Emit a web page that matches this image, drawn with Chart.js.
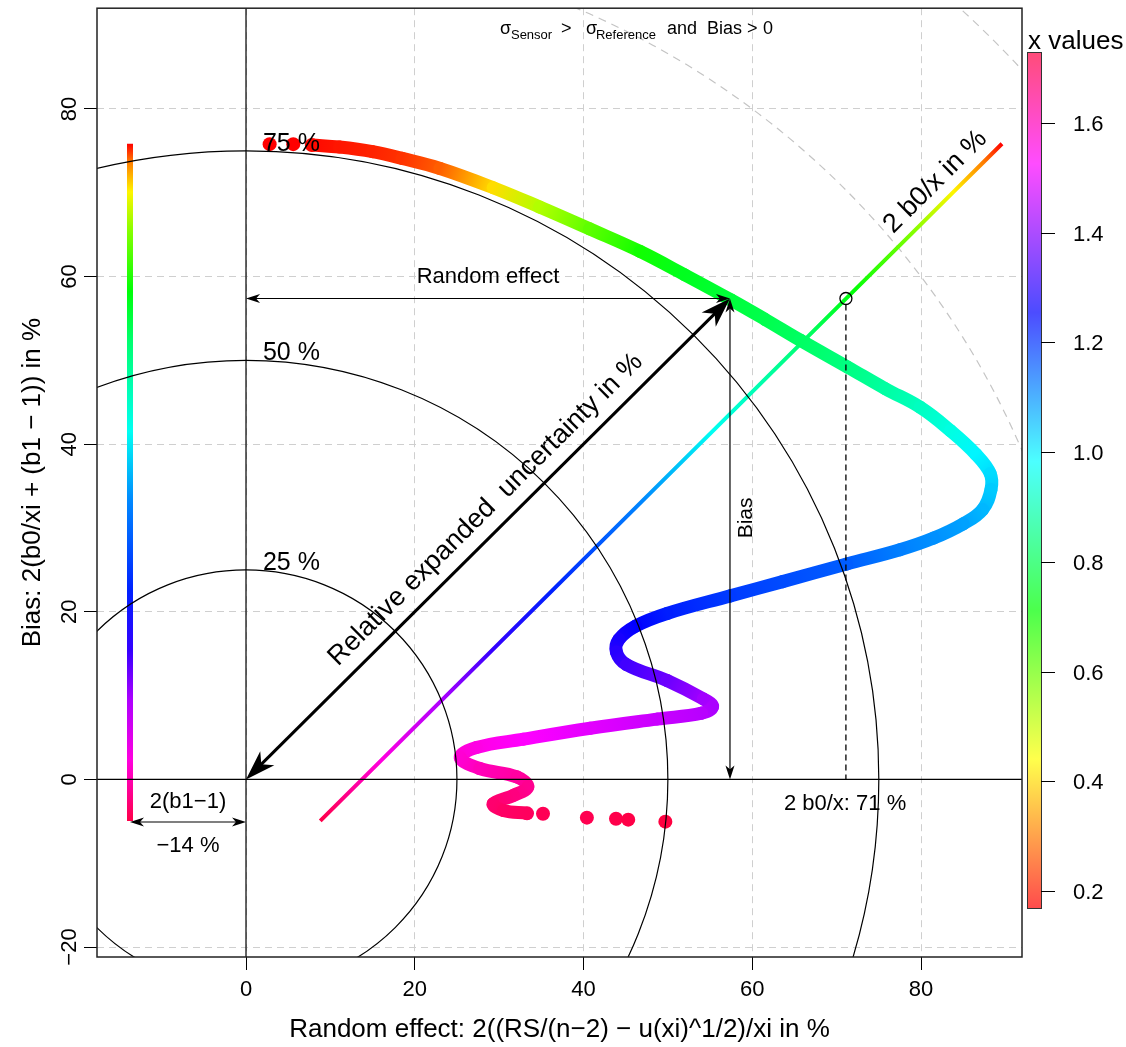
<!DOCTYPE html>
<html><head><meta charset="utf-8">
<script src="https://cdn.jsdelivr.net/npm/chart.js@4"></script>
<style>html,body{margin:0;padding:0;background:#fff;overflow:hidden}canvas{display:block}</style>
</head><body>
<canvas id="c" width="1126" height="1047"></canvas>
<script>
// ---------- data ----------
const xTicks = [0, 20, 40, 60, 80];
const yTicks = [-20, 0, 20, 40, 60, 80];
const xRange = [-17.66, 91.97];
const yRange = [-21.19, 92.02];
const xTitle = 'Random effect: 2((RS/(n\u22122) \u2212 u(xi)^1/2)/xi in %';
const yTitle = 'Bias: 2(b0/xi + (b1 \u2212 1)) in %';

// main curve: random effect (x), bias (y) and the x value (colour)
const curveRandom = [2.8, 5.6, 7.8, 11.1, 15.0, 18.5, 23.0, 29.3, 34.8, 40.7, 46.7, 52.0, 57.5, 61.5, 65.7, 71.3, 75.8, 79.9, 83.5, 86.5, 88.2, 88.3, 87.3, 85.0, 81.5, 77.5, 71.2, 63.6, 57.4, 49.9, 46.2, 44.2, 43.9, 45.1, 49.9, 54.2, 55.3, 54.0, 48.7, 40.8, 32.9, 27.3, 25.4, 27.7, 32.1, 33.4, 31.7, 29.3, 30.5, 33.3, 35.2, 40.4, 43.85, 45.3, 49.7];
const curveBias = [75.8, 75.8, 75.7, 75.45, 74.9, 74.1, 72.9, 70.6, 68.3, 65.7, 63.0, 60.2, 57.2, 54.9, 52.4, 49.2, 46.6, 44.4, 41.6, 38.8, 36.5, 34.6, 32.2, 30.5, 28.8, 27.4, 25.7, 23.6, 21.9, 19.8, 18.3, 16.7, 15.2, 13.7, 11.8, 9.6, 8.7, 7.9, 7.2, 6.1, 4.8, 3.8, 2.6, 1.3, 0.3, -0.9, -1.9, -2.9, -3.7, -4.05, -4.1, -4.56, -4.7, -4.8, -5.04];
const curveXValue = [0.169, 0.169, 0.178, 0.192, 0.205, 0.223, 0.269, 0.404, 0.522, 0.612, 0.694, 0.744, 0.775, 0.793, 0.816, 0.848, 0.884, 0.916, 0.952, 0.993, 1.020, 1.038, 1.060, 1.083, 1.101, 1.119, 1.155, 1.174, 1.192, 1.223, 1.255, 1.278, 1.296, 1.323, 1.368, 1.427, 1.436, 1.450, 1.468, 1.495, 1.526, 1.554, 1.572, 1.599, 1.626, 1.644, 1.662, 1.680, 1.689, 1.698, 1.707, 1.712, 1.717, 1.721, 1.729];
const lineFrom = 2, lineTo = 49;              // dense part drawn as a band
const dotIndex = [0, 1, 2, 49, 50, 51, 52, 53, 54]; // isolated points

// bias levels with their x value (vertical bar at 2(b1-1) and the 2 b0/x line)
const levelBias   = [75.85, 73.7, 70.1, 65.4, 58.2, 52.3, 41.5, 33.2, 22.5, 15.4, 9.4, 2.3, -4.95];
const levelXValue = [0.169, 0.300, 0.430, 0.570, 0.720, 0.830, 0.970, 1.110, 1.220, 1.310, 1.440, 1.560, 1.720];
const b1Term = -13.75;                 // 2(b1-1) in %
const refRandom = 57.36, refBias = 57.38; // example point
const b0Point = 71.1;                  // 2 b0/x in %
const uncertaintyCircles = [25, 50, 75];
const outerCircles = [100, 125];
const colorbarTicks = [0.2, 0.4, 0.6, 0.8, 1.0, 1.2, 1.4, 1.6];
const xValueRange = [0.169, 1.729];

// ---------- styling helpers ----------
const FONT = '"Liberation Sans", Arial, Helvetica, sans-serif';
Chart.defaults.font.family = FONT;
Chart.defaults.color = '#000';
const HUE_SPAN = 345;
function hueOf(v) {
  const t = (v - xValueRange[0]) / (xValueRange[1] - xValueRange[0]);
  return Math.max(0, Math.min(1, t)) * HUE_SPAN;
}
function colorOf(v, a) { return 'hsla(' + hueOf(v).toFixed(1) + ',100%,50%,' + (a === undefined ? 1 : a) + ')'; }
const minus = s => String(s).replace('-', '\u2212');

function lineGradient(chart, pts, vs) {
  const sx = chart.scales.x, sy = chart.scales.y;
  if (!chart.chartArea || !sx || !sy) return colorOf(vs[0]);
  const P = pts.map(p => [sx.getPixelForValue(p.x), sy.getPixelForValue(p.y)]);
  const a = P[0], b = P[P.length - 1];
  const dx = b[0] - a[0], dy = b[1] - a[1], L2 = dx * dx + dy * dy || 1;
  const g = chart.ctx.createLinearGradient(a[0], a[1], b[0], b[1]);
  P.forEach((p, i) => {
    const t = Math.min(1, Math.max(0, ((p[0] - a[0]) * dx + (p[1] - a[1]) * dy) / L2));
    g.addColorStop(t, colorOf(vs[i]));
  });
  return g;
}

const bandIdx = [];
for (let i = lineFrom; i <= lineTo; i++) bandIdx.push(i);
const bandData = bandIdx.map(i => ({x: curveRandom[i], y: curveBias[i]}));
const dotData = dotIndex.map(i => ({x: curveRandom[i], y: curveBias[i]}));
const barData = levelBias.map(b => ({x: b1Term, y: b}));
const diagData = levelBias.map(b => ({x: b - b1Term, y: b}));

const cnv = document.getElementById('c');
const c2d = cnv.getContext('2d');

// ---------- drawing helpers ----------
function arrowHead(ctx, x, y, ang, len, hw) {
  ctx.save();
  ctx.translate(x, y); ctx.rotate(ang);
  ctx.beginPath();
  ctx.moveTo(0, 0); ctx.lineTo(-len, -hw); ctx.lineTo(-len * 0.72, 0); ctx.lineTo(-len, hw);
  ctx.closePath(); ctx.fill();
  ctx.restore();
}
function dblArrow(ctx, x0, y0, x1, y1, lw, len, hw) {
  const a = Math.atan2(y1 - y0, x1 - x0);
  ctx.lineWidth = lw;
  ctx.beginPath();
  ctx.moveTo(x0 + Math.cos(a) * len * 0.5, y0 + Math.sin(a) * len * 0.5);
  ctx.lineTo(x1 - Math.cos(a) * len * 0.5, y1 - Math.sin(a) * len * 0.5);
  ctx.stroke();
  arrowHead(ctx, x1, y1, a, len, hw);
  arrowHead(ctx, x0, y0, a + Math.PI, len, hw);
}
function drawCircles(chart, radii, color, dash, lw) {
  const {ctx, chartArea: ca, scales: {x, y}} = chart;
  const cx = x.getPixelForValue(0), cy = y.getPixelForValue(0);
  ctx.save();
  ctx.beginPath(); ctx.rect(ca.left, ca.top, ca.right - ca.left, ca.bottom - ca.top); ctx.clip();
  ctx.strokeStyle = color; ctx.lineWidth = lw; ctx.setLineDash(dash);
  radii.forEach(r => {
    const rx = x.getPixelForValue(r) - cx, ry = cy - y.getPixelForValue(r);
    ctx.beginPath(); ctx.ellipse(cx, cy, rx, ry, 0, 0, Math.PI * 2); ctx.stroke();
  });
  ctx.restore();
}

const annot = {
  id: 'annot',
  beforeDatasetsDraw(chart) {
    drawCircles(chart, outerCircles, '#c4c4c4', [8, 6], 1.2);
  },
  afterDatasetsDraw(chart) {
    const {ctx, chartArea: ca, scales: {x, y}} = chart;
    const px = v => x.getPixelForValue(v), py = v => y.getPixelForValue(v);
    drawCircles(chart, uncertaintyCircles, '#000', [], 1.2);
    ctx.save();
    ctx.strokeStyle = '#000'; ctx.fillStyle = '#000';
    // zero lines
    ctx.lineWidth = 1.2;
    ctx.beginPath();
    ctx.moveTo(px(0), ca.top); ctx.lineTo(px(0), ca.bottom);
    ctx.moveTo(ca.left, py(0)); ctx.lineTo(ca.right, py(0));
    ctx.stroke();
    // arrows
    dblArrow(ctx, px(0), py(refBias), px(refRandom), py(refBias), 1.2, 14, 4.5);
    dblArrow(ctx, px(refRandom), py(refBias), px(refRandom), py(0), 1.2, 14, 4.5);
    dblArrow(ctx, px(b1Term), py(-5.08), px(0), py(-5.08), 1.2, 14, 4.5);
    dblArrow(ctx, px(0), py(0), px(refRandom), py(refBias), 3, 30, 10);
    // marker on 2 b0/x line and dashed drop line
    const mx = px(b0Point), my = py(refBias);
    ctx.lineWidth = 1.3;
    ctx.beginPath(); ctx.arc(mx, my, 6, 0, Math.PI * 2); ctx.stroke();
    ctx.setLineDash([6, 4]);
    ctx.beginPath(); ctx.moveTo(mx, my + 6); ctx.lineTo(mx, py(0)); ctx.stroke();
    ctx.setLineDash([]);
    // texts
    ctx.textBaseline = 'alphabetic';
    ctx.textAlign = 'left';
    ctx.font = '25px ' + FONT;
    uncertaintyCircles.forEach(r => ctx.fillText(r + ' %', px(2.0), py(r)));
    ctx.textAlign = 'center';
    ctx.font = '22px ' + FONT;
    ctx.fillText('Random effect', px(refRandom / 2), py(59.2));
    ctx.fillText('2 b0/x: ' + Math.round(b0Point) + ' %', px(71.0), py(-3.7));
    ctx.fillText('2(b1\u22121)', px(b1Term / 2), py(-3.45));
    ctx.fillText(minus(Math.round(b1Term)) + ' %', px(b1Term / 2), py(-8.7));
    // Bias (vertical)
    ctx.save();
    ctx.translate(px(59.97), py(31.2)); ctx.rotate(-Math.PI / 2);
    ctx.font = '21px ' + FONT; ctx.fillText('Bias', 0, 0);
    ctx.restore();
    // diagonal texts
    const ang = Math.atan2(py(refBias) - py(0), px(refRandom) - px(0));
    ctx.textBaseline = 'middle';
    ctx.save();
    ctx.translate(px(28.4), py(32.2)); ctx.rotate(ang);
    ctx.font = '27px ' + FONT; ctx.fillText('Relative expanded  uncertainty in %', 0, 0);
    ctx.restore();
    ctx.save();
    ctx.translate(px(81.7), py(71.3)); ctx.rotate(ang);
    ctx.font = '27px ' + FONT; ctx.fillText('2 b0/x in %', 0, 0);
    ctx.restore();
    // sigma condition text
    ctx.textBaseline = 'alphabetic'; ctx.textAlign = 'left';
    const ax = px(30.1), ay = py(88.9);
    [['\u03C3', 0, 18, 0], ['Sensor', 11, 13, 5], ['>', 61, 18, 0], ['\u03C3', 86, 18, 0], ['Reference', 96, 13, 5],
     ['and', 167, 18, 0], ['Bias', 207, 18, 0], ['>', 247, 18, 0], ['0', 263, 18, 0]].forEach(p => {
      ctx.font = p[2] + 'px ' + FONT; ctx.fillText(p[0], ax + p[1], ay + p[3]);
    });
    // plot box
    ctx.lineWidth = 1.5; ctx.strokeStyle = '#222';
    ctx.strokeRect(ca.left, ca.top, ca.right - ca.left, ca.bottom - ca.top);
    // colour bar
    const cbL = 1027, cbW = 14, cbT = 52, cbB = 908;
    const cbY = v => cbB - (v - xValueRange[0]) / (xValueRange[1] - xValueRange[0]) * (cbB - cbT);
    const g = ctx.createLinearGradient(0, cbB, 0, cbT);
    for (let k = 0; k <= 23; k++) g.addColorStop(k / 23, 'hsla(' + (k / 23 * HUE_SPAN) + ',100%,50%,0.7)');
    ctx.fillStyle = g; ctx.fillRect(cbL, cbT, cbW, cbB - cbT);
    ctx.lineWidth = 1; ctx.strokeStyle = '#333';
    ctx.strokeRect(cbL + 0.5, cbT + 0.5, cbW, cbB - cbT);
    ctx.fillStyle = '#000'; ctx.strokeStyle = '#000';
    ctx.font = '22px ' + FONT; ctx.textBaseline = 'middle'; ctx.textAlign = 'left';
    colorbarTicks.forEach(v => {
      const yy = Math.round(cbY(v)) + 0.5;
      ctx.beginPath(); ctx.moveTo(cbL + cbW, yy); ctx.lineTo(cbL + cbW + 14, yy); ctx.stroke();
      ctx.fillText(v.toFixed(1), 1073, yy + 1);
    });
    ctx.textBaseline = 'alphabetic';
    ctx.font = '26px ' + FONT;
    ctx.fillText('x values', 1028, 49);
    ctx.restore();
  }
};

new Chart(cnv, {
  type: 'scatter',
  data: {
    datasets: [
      {
        label: 'curve', data: bandData, showLine: true, tension: 0.4,
        borderWidth: 13, borderCapStyle: 'round', borderJoinStyle: 'round',
        pointRadius: 0, borderColor: colorOf(curveXValue[lineFrom]),
        segment: {
          borderColor: c => {
            const i0 = bandIdx[c.p0DataIndex], i1 = bandIdx[c.p1DataIndex];
            const g = c2d.createLinearGradient(c.p0.x, c.p0.y, c.p1.x + 0.01, c.p1.y + 0.01);
            g.addColorStop(0, colorOf(curveXValue[i0]));
            g.addColorStop(1, colorOf(curveXValue[i1]));
            return g;
          }
        }
      },
      {
        label: 'dots', data: dotData, showLine: false, pointRadius: 7, pointBorderWidth: 0,
        pointBackgroundColor: dotIndex.map(i => colorOf(curveXValue[i])),
        pointBorderColor: dotIndex.map(i => colorOf(curveXValue[i]))
      },
      {
        label: '2 b0/x', data: diagData, showLine: true, pointRadius: 0, borderWidth: 4, tension: 0,
        borderCapStyle: 'butt', borderColor: c => lineGradient(c.chart, diagData, levelXValue)
      },
      {
        label: '2(b1-1)', data: barData, showLine: true, pointRadius: 0, borderWidth: 6, tension: 0,
        borderCapStyle: 'butt', borderColor: c => lineGradient(c.chart, barData, levelXValue)
      }
    ]
  },
  options: {
    responsive: false, animation: false, events: [], devicePixelRatio: 1,
    layout: {padding: {top: 6, right: 104, bottom: 0, left: 0}},
    plugins: {legend: {display: false}, tooltip: {enabled: false}},
    scales: {
      x: {
        type: 'linear', min: xRange[0], max: xRange[1],
        afterBuildTicks: s => { s.ticks = xTicks.map(v => ({value: v})); },
        afterFit: s => { s.height = 90; },
        ticks: {font: {size: 22}, color: '#000', padding: 7, maxRotation: 0, minRotation: 0, callback: v => minus(v)},
        grid: {color: '#cfcfcf', lineWidth: 1, tickLength: 13, tickColor: '#000', tickWidth: 1, tickBorderDash: [20, 0]},
        border: {display: false, dash: [7, 5]},
        title: {display: true, text: xTitle, font: {size: 26}, color: '#000', padding: {top: 0, bottom: 2}}
      },
      y: {
        type: 'linear', min: yRange[0], max: yRange[1],
        afterBuildTicks: s => { s.ticks = yTicks.map(v => ({value: v})); },
        afterFit: s => { s.width = 97; },
        ticks: {font: {size: 22}, color: '#000', padding: -5, minRotation: 90, maxRotation: 90, crossAlign: 'center', callback: v => minus(v)},
        grid: {color: '#cfcfcf', lineWidth: 1, tickLength: 13, tickColor: '#000', tickWidth: 1, tickBorderDash: [20, 0]},
        border: {display: false, dash: [7, 5]},
        title: {display: true, text: yTitle, font: {size: 26}, color: '#000', padding: {top: 17, bottom: 0}}
      }
    }
  },
  plugins: [annot]
});
</script>
</body></html>
